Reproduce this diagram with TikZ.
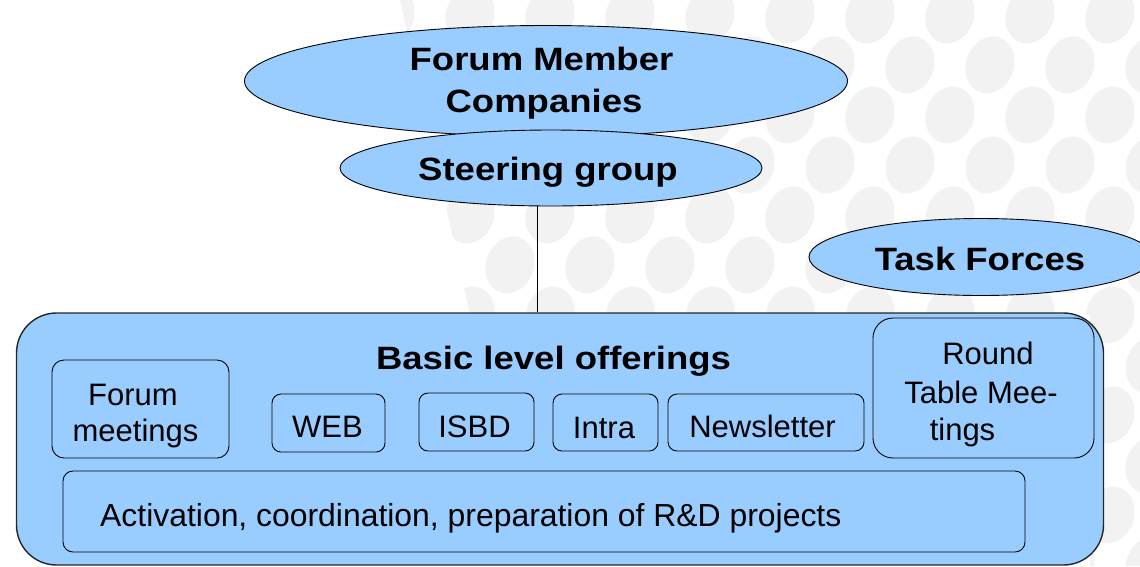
\documentclass[tikz,border=0pt]{standalone}
\usepackage{fontspec}
\setmainfont{Liberation Sans}
\newfontfamily\widesans[FakeStretch=1.13]{Liberation Sans}
\usetikzlibrary{shapes.geometric}
\definecolor{boxblue}{HTML}{99CCFF}
\definecolor{dotgray}{HTML}{F2F2F2}
\tikzset{
  oval/.style={ellipse, draw=black, line width=0.9pt, fill=boxblue, inner sep=0pt},
  item/.style={draw=black, line width=0.9pt, fill=boxblue, rounded corners=9pt, inner sep=0pt},
  frame/.style={draw=black!85, line width=1.4pt, fill=boxblue, rounded corners=40pt, inner sep=0pt},
  btxt/.style={inner sep=0pt, anchor=base, font=\fontsize{32.3}{36}\selectfont\widesans\bfseries},
  rtxt/.style={inner sep=0pt, anchor=base, font=\fontsize{31}{36}\selectfont},
  link/.style={draw=black, line width=0.9pt},
  dot/.style={fill=dotgray}
}
\begin{document}
\begin{tikzpicture}[x=1pt,y=-1pt]
\useasboundingbox (0,0) rectangle (1140,566);
% faint background pattern
\begin{scope}
\clip (400,0) -- (1140,0) -- (1140,566) -- (1090,566) -- (1090,315) -- (470,315) -- cycle;
\foreach \j in {0,...,11}{
  \foreach \i in {0,...,10}{
    \pgfmathsetmacro{\cx}{390+\i*80+mod(\j,2)*40}
    \pgfmathsetmacro{\cy}{15+\j*50}
    \fill[dot, rotate around={-20:(\cx,\cy)}] (\cx,\cy) ellipse (24 and 29);
  }
}
\end{scope}
% outer frame
\node[frame, minimum width=1087pt, minimum height=252pt] (basic) at (560,439) {};
\node[btxt] (basiclbl) at (553.5,369) {Basic level offerings};
% ellipses
\node[oval, minimum width=603pt, minimum height=111pt] (fmc) at (546,81) {};
\node[btxt] (fmc1) at (541.5,70) {Forum Member};
\node[btxt] (fmc2) at (544,112) {Companies};
\node[oval, minimum width=422pt, minimum height=76pt] (sg) at (551,168) {};
\node[btxt] (sgl) at (548,180) {Steering group};
\node[oval, minimum width=344pt, minimum height=77pt] (tf) at (981,257) {};
\node[btxt] (tfl) at (980,270) {Task Forces};
% connector
\draw[link] ([xshift=-14pt]sg.south) -- ([xshift=-14pt]sg.south |- basic.north);
% items
\node[item, minimum width=177pt, minimum height=98pt, rounded corners=12pt] (fm) at (140.5,409) {};
\node[rtxt] (fm1) at (133,405) {Forum};
\node[rtxt] (fm2) at (135.5,441) {meetings};
\node[item, minimum width=113pt, minimum height=58pt] (web) at (328.5,423) {};
\node[rtxt] (webl) at (327.5,437) {WEB};
\node[item, minimum width=115pt, minimum height=58pt] (isbd) at (476.5,422) {};
\node[rtxt] (isbdl) at (474.5,437) {ISBD};
\node[item, minimum width=105pt, minimum height=57pt] (intra) at (605.5,422.5) {};
\node[rtxt] (intral) at (604,438) {Intra};
\node[item, minimum width=196pt, minimum height=57pt] (news) at (766,422.5) {};
\node[rtxt] (newsl) at (762.5,437) {Newsletter};
\node[item, minimum width=221pt, minimum height=140pt, rounded corners=20pt] (rtm) at (983.5,388) {};
\node[rtxt] (rtm1) at (988,364) {Round};
\node[rtxt] (rtm2) at (981,403) {Table Mee-};
\node[rtxt] (rtm3) at (962.5,440) {tings};
\node[item, minimum width=962pt, minimum height=81pt, rounded corners=10pt] (act) at (544,511.5) {};
\node[rtxt, anchor=base west, font=\fontsize{31.9}{36}\selectfont] (actl) at (100,526) {Activation, coordination, preparation of R\&D projects};
\end{tikzpicture}
\end{document}
